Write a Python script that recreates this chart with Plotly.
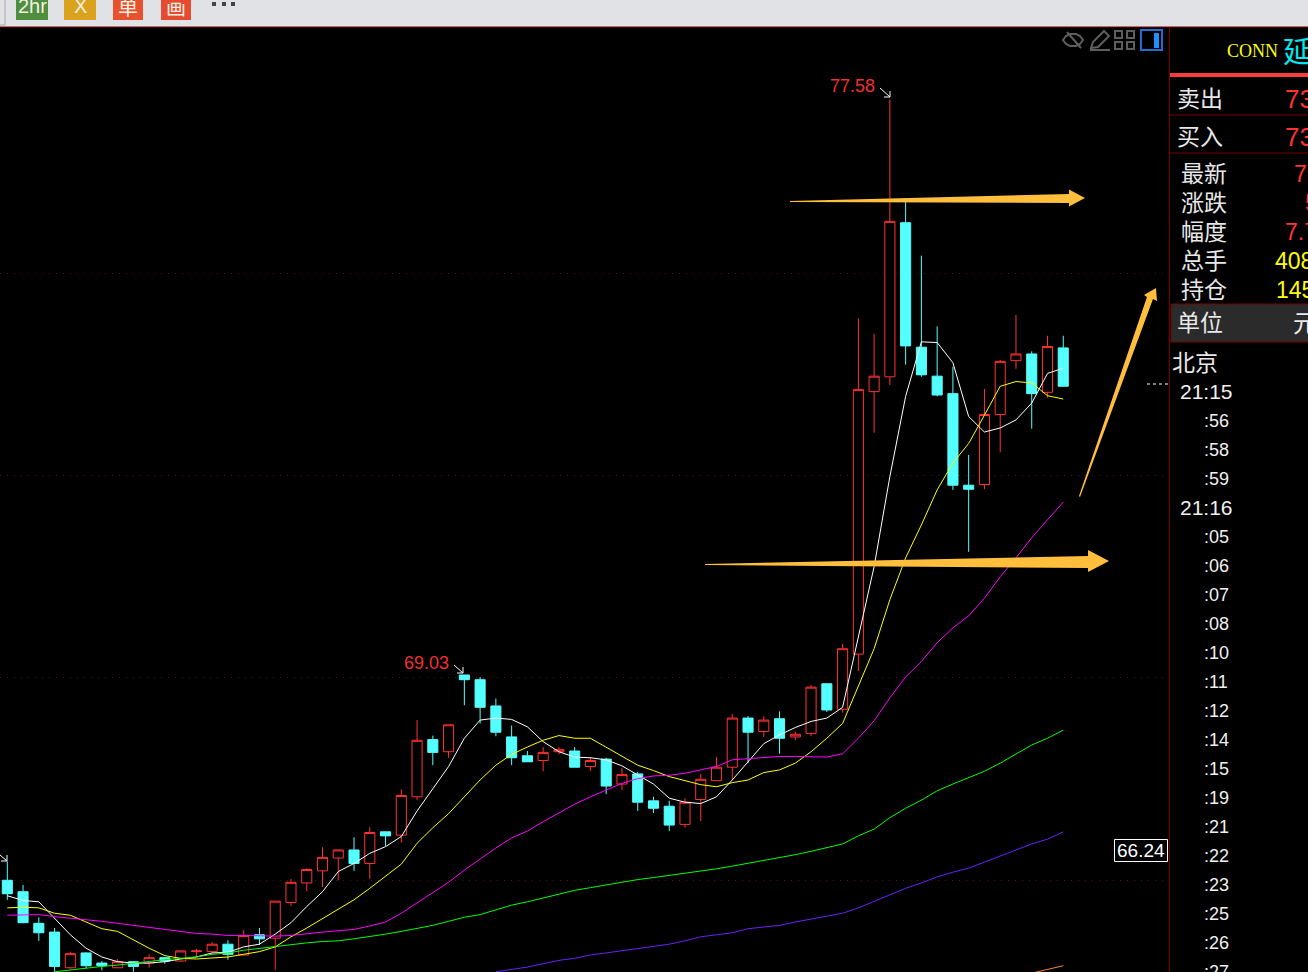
import plotly.graph_objects as go

# candle values (price units)
opens = [65.98,65.81,65.34,65.21,64.68,64.90,64.75,64.68,64.77,64.75,64.83,64.78,64.92,64.92,65.03,64.87,65.17,65.12,65.65,65.94,66.12,66.31,66.43,66.23,66.70,66.65,67.22,68.07,67.89,69.03,68.96,68.57,68.11,67.83,67.76,67.89,67.90,67.67,67.78,67.41,67.56,67.16,67.08,66.81,67.18,67.46,67.66,68.39,68.19,68.38,68.11,68.16,68.90,68.52,69.34,73.24,73.46,75.75,73.90,73.47,73.21,71.85,71.86,72.90,73.70,73.80,73.23,73.89]
closes = [65.78,65.35,65.20,64.70,64.89,64.71,64.71,64.77,64.70,64.83,64.78,64.93,64.93,65.03,64.88,65.16,65.11,65.67,65.95,66.14,66.32,66.43,66.23,66.69,66.64,67.24,68.06,67.88,68.29,68.96,68.55,68.18,67.80,67.74,67.88,67.92,67.66,67.76,67.38,67.55,67.14,67.05,66.80,67.14,67.48,67.66,68.39,68.18,68.36,68.09,68.15,68.85,68.51,69.42,73.27,73.47,75.77,73.92,73.49,73.19,71.85,71.79,72.90,73.69,73.80,73.21,73.91,73.32]
highs = [66.26,65.91,65.43,65.27,64.92,64.91,64.78,64.81,64.78,64.88,64.84,64.94,64.96,65.06,65.09,65.24,65.27,65.67,66.00,66.16,66.47,66.44,66.62,66.77,66.70,67.33,68.36,68.13,68.29,69.03,69.00,68.68,68.28,67.90,67.96,67.96,67.96,67.81,67.80,67.65,67.59,67.22,67.16,67.20,67.56,67.81,68.45,68.42,68.42,68.49,68.19,68.88,68.90,69.49,74.33,74.10,77.58,76.06,75.26,74.21,73.61,72.30,73.28,73.71,74.38,73.84,74.07,74.07]
lows = [65.69,65.34,65.08,64.62,64.66,64.67,64.64,64.68,64.62,64.68,64.74,64.77,64.84,64.89,64.80,64.86,65.02,64.65,65.60,65.82,65.88,65.98,66.12,66.00,66.49,66.54,67.17,67.69,67.80,68.58,68.31,68.12,67.69,67.74,67.60,67.85,67.66,67.60,67.26,67.32,67.01,66.98,66.71,66.76,66.86,67.46,67.47,67.72,68.11,67.86,68.06,68.12,68.48,68.47,69.09,72.63,73.34,73.64,73.46,73.17,71.78,70.86,71.79,72.34,73.58,72.69,73.15,73.32]

# moving averages
ma_white = [65.75,65.68,65.66,65.42,65.17,64.97,64.84,64.77,64.75,64.75,64.77,64.81,64.84,64.90,64.91,64.99,65.03,65.18,65.35,65.59,65.81,66.11,66.23,66.38,66.48,66.63,67.01,67.34,67.67,68.09,68.36,68.39,68.37,68.26,68.04,67.89,67.81,67.80,67.77,67.68,67.54,67.41,67.20,67.14,67.12,67.22,67.47,67.74,68.01,68.14,68.25,68.34,68.39,68.55,69.58,70.64,71.98,73.17,73.98,73.97,73.67,72.87,72.64,72.70,72.82,73.07,73.51,73.59]
ma_yellow = [65.57,65.58,65.57,65.49,65.46,65.36,65.26,65.22,65.09,64.97,64.86,64.82,64.81,64.83,64.84,64.88,64.92,64.99,65.14,65.27,65.41,65.56,65.69,65.86,66.04,66.22,66.53,66.76,66.97,67.22,67.47,67.69,67.85,67.96,68.06,68.13,68.09,68.09,67.96,67.83,67.69,67.61,67.52,67.46,67.40,67.37,67.43,67.47,67.58,67.62,67.72,67.89,68.09,68.31,68.86,69.42,70.15,70.77,71.26,71.78,72.18,72.47,72.89,73.32,73.39,73.37,73.18,73.13]
ma_magenta = [65.46,65.47,65.47,65.44,65.42,65.40,65.37,65.34,65.31,65.28,65.24,65.22,65.19,65.18,65.16,65.16,65.15,65.15,65.16,65.19,65.21,65.23,65.25,65.30,65.36,65.49,65.64,65.79,65.95,66.13,66.30,66.46,66.61,66.71,66.85,66.98,67.11,67.22,67.32,67.42,67.49,67.53,67.54,67.57,67.62,67.67,67.77,67.79,67.81,67.82,67.82,67.81,67.81,67.86,68.09,68.35,68.69,69.00,69.23,69.51,69.73,69.91,70.17,70.49,70.77,71.07,71.33,71.60]
ma_green = [64.62,64.65,64.67,64.70,64.72,64.75,64.77,64.80,64.82,64.84,64.88,64.90,64.94,64.97,65.00,65.03,65.05,65.07,65.08,65.11,65.14,65.18,65.22,65.26,65.31,65.37,65.43,65.47,65.54,65.61,65.66,65.72,65.78,65.83,65.87,65.91,65.96,65.99,66.02,66.05,66.08,66.11,66.15,66.19,66.23,66.27,66.31,66.36,66.41,66.46,66.52,66.64,66.74,66.91,67.05,67.17,67.31,67.41,67.50,67.60,67.72,67.86,67.99,68.09,68.21]
ma_blue = [64.62,64.65,64.69,64.74,64.79,64.82,64.87,64.90,64.93,64.96,65.00,65.03,65.08,65.14,65.17,65.20,65.26,65.29,65.31,65.36,65.40,65.45,65.49,65.57,65.67,65.76,65.86,65.94,66.03,66.10,66.16,66.25,66.34,66.44,66.52,66.59,66.70]
ma_orange = [64.60,64.65,64.71]

price_grid = [65.98, 69, 72, 75]
side_labels = ["卖出", "买入", "最新", "涨跌", "幅度", "总手", "持仓", "单位"]
side_values = ["73", "73", "7", "5", "7.7", "408", "145", "元"]
times = ["21:15", ":56", ":58", ":59", "21:16", ":05", ":06", ":07", ":08", ":10", ":11", ":12", ":14", ":15", ":19", ":21", ":22", ":23", ":25", ":26", ":27"]

W, H = 1308, 972
X = lambda p: p / W
Y = lambda p: 1 - p / H

idx = list(range(len(opens)))
fig = go.Figure()
fig.add_trace(go.Candlestick(
    x=idx, open=opens, high=highs, low=lows, close=closes,
    increasing=dict(line=dict(color="#FF3232", width=1), fillcolor="#000000"),
    decreasing=dict(line=dict(color="#54FFFF", width=1), fillcolor="#54FFFF"),
    whiskerwidth=0, hoverinfo="skip"))
for vals, col, start in [(ma_white, "#FFFFFF", 0), (ma_yellow, "#FFFF00", 0), (ma_magenta, "#FF00FF", 0),
                         (ma_green, "#00FF00", 3), (ma_blue, "#6A20FF", 31), (ma_orange, "#FF8030", 65)]:
    fig.add_trace(go.Scatter(x=list(range(start, start + len(vals))), y=vals, mode="lines",
                             line=dict(color=col, width=1), hoverinfo="skip"))

shapes, ann = [], []

def rect(x0, y0, x1, y1, fill=None, line=None, lw=1):
    shapes.append(dict(type="rect", xref="paper", yref="paper", x0=X(x0), x1=X(x1), y0=Y(y1), y1=Y(y0),
                       fillcolor=fill or "rgba(0,0,0,0)", line=dict(color=line or "rgba(0,0,0,0)", width=lw if line else 0)))

def hline(x0, x1, y, col, lw=1, dash="solid"):
    shapes.append(dict(type="line", xref="paper", yref="paper", x0=X(x0), x1=X(x1), y0=Y(y), y1=Y(y),
                       line=dict(color=col, width=lw, dash=dash)))

def path(pts, fill=None, line=None, lw=1, close=True):
    d = "M " + " L ".join(f"{X(a):.5f},{Y(b):.5f}" for a, b in pts) + (" Z" if close else "")
    shapes.append(dict(type="path", xref="paper", yref="paper", path=d,
                       fillcolor=fill or "rgba(0,0,0,0)", line=dict(color=line or "rgba(0,0,0,0)", width=lw if line else 0)))

def txt(x, y, s, size, col, fam="Noto Sans CJK SC", anchor="left"):
    ann.append(dict(xref="paper", yref="paper", x=X(x), y=Y(y), text=s, showarrow=False, xanchor=anchor, yanchor="middle",
                    font=dict(size=size, color=col, family=fam), borderpad=0, borderwidth=0))

SANS = "Liberation Sans"
# toolbar
rect(0, 0, W, 27, fill="#E1E2E6")
hline(0, W, 27, "#7A0000")
rect(-3, -3, 5, 25, line="#A8A8A8")
for x0, x1, col, s in [(16, 48, "#4E8E3E", "2hr"), (64, 96, "#DBA21E", "X"), (113, 143, "#E8502E", "单"), (161, 191, "#E54B30", "画")]:
    rect(x0, -4, x1, 20, fill=col)
    txt((x0 + x1) / 2, 6, s, 20, "#F4F0E0", SANS if s in ("2hr", "X") else "Noto Sans CJK SC", "center")
for x in (214, 224, 233):
    rect(x - 2, 2, x + 2, 6, fill="#444444")

# chart icons
ICON = "#5E5E5E"
path([(1063, 40), (1066, 36), (1070, 34), (1076, 34), (1080, 36), (1083, 40), (1080, 44), (1076, 46), (1070, 46), (1066, 44)], line=ICON, lw=2)
path([(1067, 32), (1081, 48)], line=ICON, lw=2, close=False)
path([(1091, 48), (1093, 42), (1104, 31), (1109, 36), (1098, 47)], line=ICON, lw=2)
path([(1090, 50), (1110, 50)], line=ICON, lw=2, close=False)
for a in (1115, 1127):
    for b in (31, 42):
        rect(a, b, a + 7, b + 7, line=ICON, lw=2)
rect(1141, 30, 1162, 50, line="#1F6FD0", lw=2)
rect(1154, 33, 1159, 48, fill="#1E90FF")

# right panel
shapes.append(dict(type="line", xref="paper", yref="paper", x0=X(1169.5), x1=X(1169.5), y0=0, y1=Y(27), line=dict(color="#7A0000", width=1)))
rect(1170, 73, W, 77, fill="#F93C3C")
hline(1170, W, 115, "#7A0000")
hline(1170, W, 153, "#7A0000")
rect(1171, 304, W + 2, 342, fill="#2B2B2B", line="#7A0000")
txt(1227, 51, "CONN", 18, "#FFFF00", "Liberation Serif")
txt(1283, 49, "延", 30, "#00E8F0")
label_pos = [(1177, 97), (1177, 135), (1181, 172), (1181, 201), (1181, 230), (1181, 259), (1181, 288), (1177, 321)]
value_pos = [(1285, 99, 26, "#FF3232"), (1285, 137, 26, "#FF3232"), (1294, 174, 23, "#FF3232"), (1305, 203, 23, "#FF3232"),
             (1285, 232, 23, "#FF3232"), (1275, 261, 23, "#FFFF00"), (1276, 290, 23, "#FFFF00"), (1293, 321, 24, "#E8E8E8")]
for s, (x, y) in zip(side_labels, label_pos):
    txt(x, y, s, 23, "#E8E8E8")
for s, (x, y, size, col) in zip(side_values, value_pos):
    txt(x, y, s, size, col, SANS if s != "元" else "Noto Sans CJK SC")
txt(1172, 361, "北京", 23, "#E8E8E8")
for k, s in enumerate(times):
    y = 392 + 29 * k
    if s.startswith("21"):
        txt(1180, y, s, 21, "#F0F0F0", SANS)
    else:
        txt(1204, y, s, 18, "#F0F0F0", SANS)

# markers on chart
hline(1147, 1168, 384, "#FFFFFF", 1, "3px,3px")
rect(1114.5, 839.5, 1167.5, 861.5, fill="#000000", line="#FFFFFF")
txt(1141, 850, "66.24", 19, "#FFFFFF", SANS, "center")
txt(852.5, 86, "77.58", 18, "#F03030", SANS, "center")
txt(426.5, 663, "69.03", 18, "#F03030", SANS, "center")
for seg in ([(880, 88), (890, 97)], [(884, 97), (890, 97), (890, 91)],
            [(454, 665), (463, 673)], [(457, 673), (463, 673), (463, 667)],
            [(0, 855), (7, 861)], [(1, 861), (7, 861), (7, 855)]):
    path(seg, line="#FFFFFF", close=False)

# hand-drawn arrows
ORANGE = "#FFBE3C"
path([(790, 201), (1069, 194), (1069, 189.5), (1085, 198), (1069, 206.5), (1069, 203), (790, 202)], fill=ORANGE)
path([(705, 564), (1088, 556), (1088, 550), (1109, 561), (1088, 572), (1088, 568), (705, 565)], fill=ORANGE)
path([(1079, 496), (1147, 297), (1144, 295), (1156, 288), (1157, 301), (1153, 299), (1080, 497)], fill=ORANGE)

fig.update_layout(
    width=W, height=H, margin=dict(l=0, r=0, t=0, b=0, pad=0), autosize=False,
    paper_bgcolor="#000000", plot_bgcolor="#000000", showlegend=False, hovermode=False, boxgap=0.2, boxgroupgap=0.2,
    xaxis=dict(domain=[0, 1169 / W], range=[-0.463, 73.71], showgrid=False, zeroline=False, showticklabels=False,
               ticks="", showline=False, rangeslider=dict(visible=False)),
    yaxis=dict(domain=[0, 945 / H], range=[64.617, 78.658], tickvals=price_grid, showticklabels=False, ticks="",
               zeroline=False, showline=False, showgrid=True, gridcolor="#5A1414", griddash="1px,6px", gridwidth=1),
    shapes=shapes, annotations=ann)

fig.write_html("out.html", config=dict(displayModeBar=False),
               post_script="document.body.style.margin='0';document.body.style.overflow='hidden';")
